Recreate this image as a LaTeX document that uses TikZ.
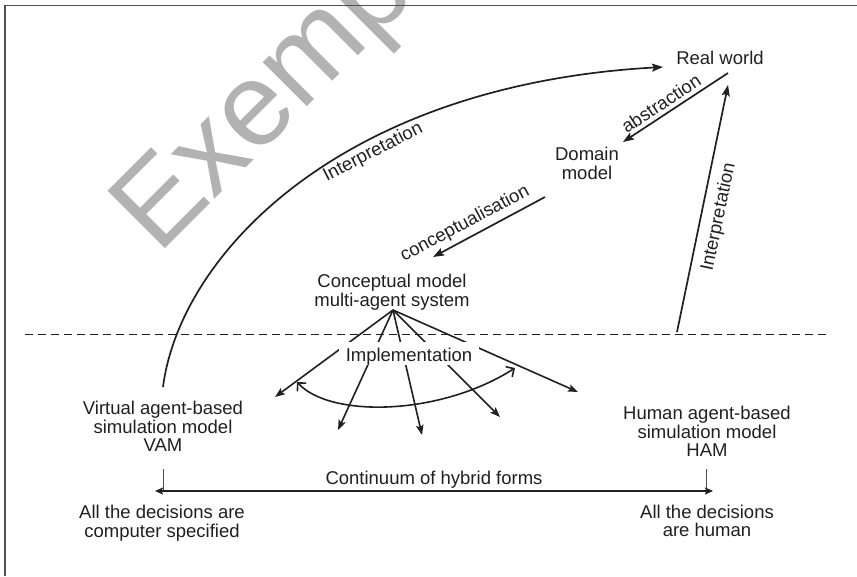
\documentclass[tikz,border=0pt]{standalone}
\usepackage{fontspec}
\setmainfont{Liberation Sans}
\usetikzlibrary{arrows.meta}
\definecolor{ink}{RGB}{35,31,32}
\definecolor{framegray}{RGB}{80,80,80}
\definecolor{markgray}{RGB}{178,178,178}
\begin{document}
\begin{tikzpicture}[x=1pt,y=-1pt,
  lbl/.style={font=\fontsize{18.5}{18.5}\selectfont, text=ink, inner sep=0pt, align=center},
  arr/.style={draw=ink, line width=1.7pt, -{Stealth[length=11pt,width=8pt,inset=2pt]}},
  fanarr/.style={draw=ink, line width=1.6pt, -{Stealth[length=10pt,width=7.5pt,inset=2pt]}},
  tick/.style={draw=framegray, line width=1pt}]
\useasboundingbox (0,0) rectangle (857,576);
\fill[white] (0,0) rectangle (857,576);

% watermark
\begin{scope}
  \clip (0,0) rectangle (857,576);
  \node[anchor=base west, rotate=45, text=markgray, inner sep=0pt,
        font=\fontsize{118}{118}\selectfont] (mark) at (158,256) {Exemplar};
\end{scope}

% frame (top and left edges)
\draw[framegray, line width=1.5pt] (857,5.5) -- (5,5.5) -- (5,576);

% separation between model level and implementation level
\draw[ink, line width=1pt, dash pattern=on 8pt off 5pt] (25,334) -- (828,334);

% nodes
\node[lbl] (real) at (720,58) {Real world};
\node[lbl] (domain) at (587,163.5) {Domain\\model};
\node[lbl] (concept) at (392,292) {Conceptual model\\multi-agent system};
\node[lbl] (vam) at (163,426.5) {Virtual agent-based\\simulation model\\VAM};
\node[lbl] (ham) at (707,431.5) {Human agent-based\\simulation model\\HAM};
\node[lbl, anchor=base] (cont) at (434,484.6) {Continuum of hybrid forms};
\node[lbl] (allcomp) at (162,523) {All the decisions are\\computer specified};
\node[lbl] (allhum) at (707,521) {All the decisions\\are human};

% connector ends
\coordinate (real-out) at (728,73);
\coordinate (domain-in) at (623,142);
\coordinate (domain-out) at (545,197);
\coordinate (concept-in) at (433,257);
\coordinate (real-in) at (728,85);
\coordinate (ham-out) at (677,332);
\coordinate (vam-out) at (163,387);
\coordinate (real-left) at (663,67);
\coordinate (apex) at (393,310);
\coordinate (f1) at (275,397);
\coordinate (f2) at (338,430);
\coordinate (f3) at (422,435);
\coordinate (f4) at (500,417);
\coordinate (f5) at (578,392);
\coordinate (arcl) at (297,382);
\coordinate (arcr) at (515,368);
\coordinate (vam-tick) at (163,469);
\coordinate (ham-tick) at (706,469);
\coordinate (vam-base) at (163,491);
\coordinate (ham-base) at (706,491);
\coordinate (cont-l) at (155,491);
\coordinate (cont-r) at (713,491);

% abstraction and conceptualisation
\draw[arr] (real-out) -- (domain-in);
\node[lbl, rotate=33.3] (abs) at (661,103.5) {abstraction};
\draw[arr] (domain-out) -- (concept-in);
\node[lbl, rotate=28] (conc) at (465,224) {conceptualisation};

% interpretation from the human model back to the real world
\draw[arr] (ham-out) -- (real-in);
\node[lbl, rotate=78] (interp-r) at (719,217) {Interpretation};

% interpretation from the virtual model back to the real world
\draw[arr] (vam-out) .. controls (180,255) and (340,85) .. (real-left)
  node[lbl, pos=0.625, sloped, below, inner sep=3pt] (interp-l) {Interpretation};

% implementation fan
\foreach \t in {f1,f2,f3,f4,f5} \draw[fanarr] (apex) -- (\t);
\node[lbl, anchor=base, fill=white, inner xsep=7pt, text height=19.7pt, text depth=3.3pt]
  (impl) at (409,361.7) {Implementation};
\draw[draw=ink, line width=1.6pt,
  {Straight Barb[length=6pt,width=12pt]}-{Straight Barb[length=6pt,width=12pt]}]
  (arcl) .. controls (330,418) and (440,416) .. (arcr);

% continuum of hybrid forms
\draw[tick] (vam-tick) -- (vam-base);
\draw[tick] (ham-tick) -- (ham-base);
\draw[draw=ink, line width=1.8pt,
  {Stealth[length=8pt,width=7pt,inset=1.5pt]}-{Stealth[length=8pt,width=7pt,inset=1.5pt]}]
  (cont-l) -- (cont-r);
\end{tikzpicture}
\end{document}
